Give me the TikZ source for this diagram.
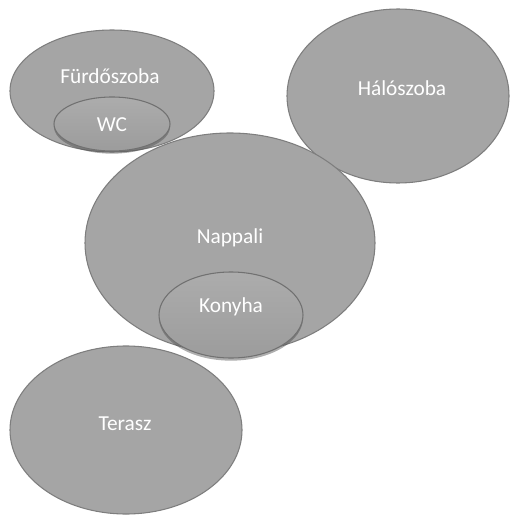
\documentclass[tikz,border=0pt]{standalone}
\usepackage{fontspec}
\setmainfont{Carlito}
\usetikzlibrary{shapes.geometric,shadows}
\definecolor{roomfill}{HTML}{A5A5A5}
\definecolor{roomline}{HTML}{7E7E7E}
\definecolor{innertop}{HTML}{ACACAC}
\definecolor{innerbot}{HTML}{9C9C9C}
\begin{document}
\begin{tikzpicture}[x=0.75pt,y=-0.75pt,
  room/.style={ellipse, draw=roomline, line width=0.8pt, fill=roomfill, inner sep=0pt},
  inner/.style={room, top color=innertop, bottom color=innerbot, draw=roomline!90!black,
     drop shadow={shadow xshift=0pt, shadow yshift=-2pt, opacity=0.45, fill=black!70}},
  lbl/.style={text=white, font=\fontsize{16}{19}\selectfont, inner sep=0pt}]
\useasboundingbox (0,0) rectangle (512,517);
\node[room, minimum width=174pt, minimum height=126pt] (terasz) at (126,430) {};
\node[room, minimum width=166.5pt, minimum height=130.5pt] (halo) at (398,96) {};
\node[room, minimum width=217.5pt, minimum height=165pt] (nappali) at (230,243) {};
\node[inner, minimum width=108pt, minimum height=64.5pt] (konyha) at (231,315) {};
\node[room, minimum width=153pt, minimum height=91.5pt] (furdo) at (112,91) {};
\node[inner, minimum width=87pt, minimum height=40.5pt] (wc) at (112,124) {};
\node[lbl] (tfurdo) at (110,76) {Fürdőszoba};
\node[lbl] (twc) at (112,125) {WC};
\node[lbl] (thalo) at (402,88) {Hálószoba};
\node[lbl] (tnappali) at (230,238) {Nappali};
\node[lbl] (tkonyha) at (231,307) {Konyha};
\node[lbl] (tterasz) at (125,424) {Terasz};
\end{tikzpicture}
\end{document}
